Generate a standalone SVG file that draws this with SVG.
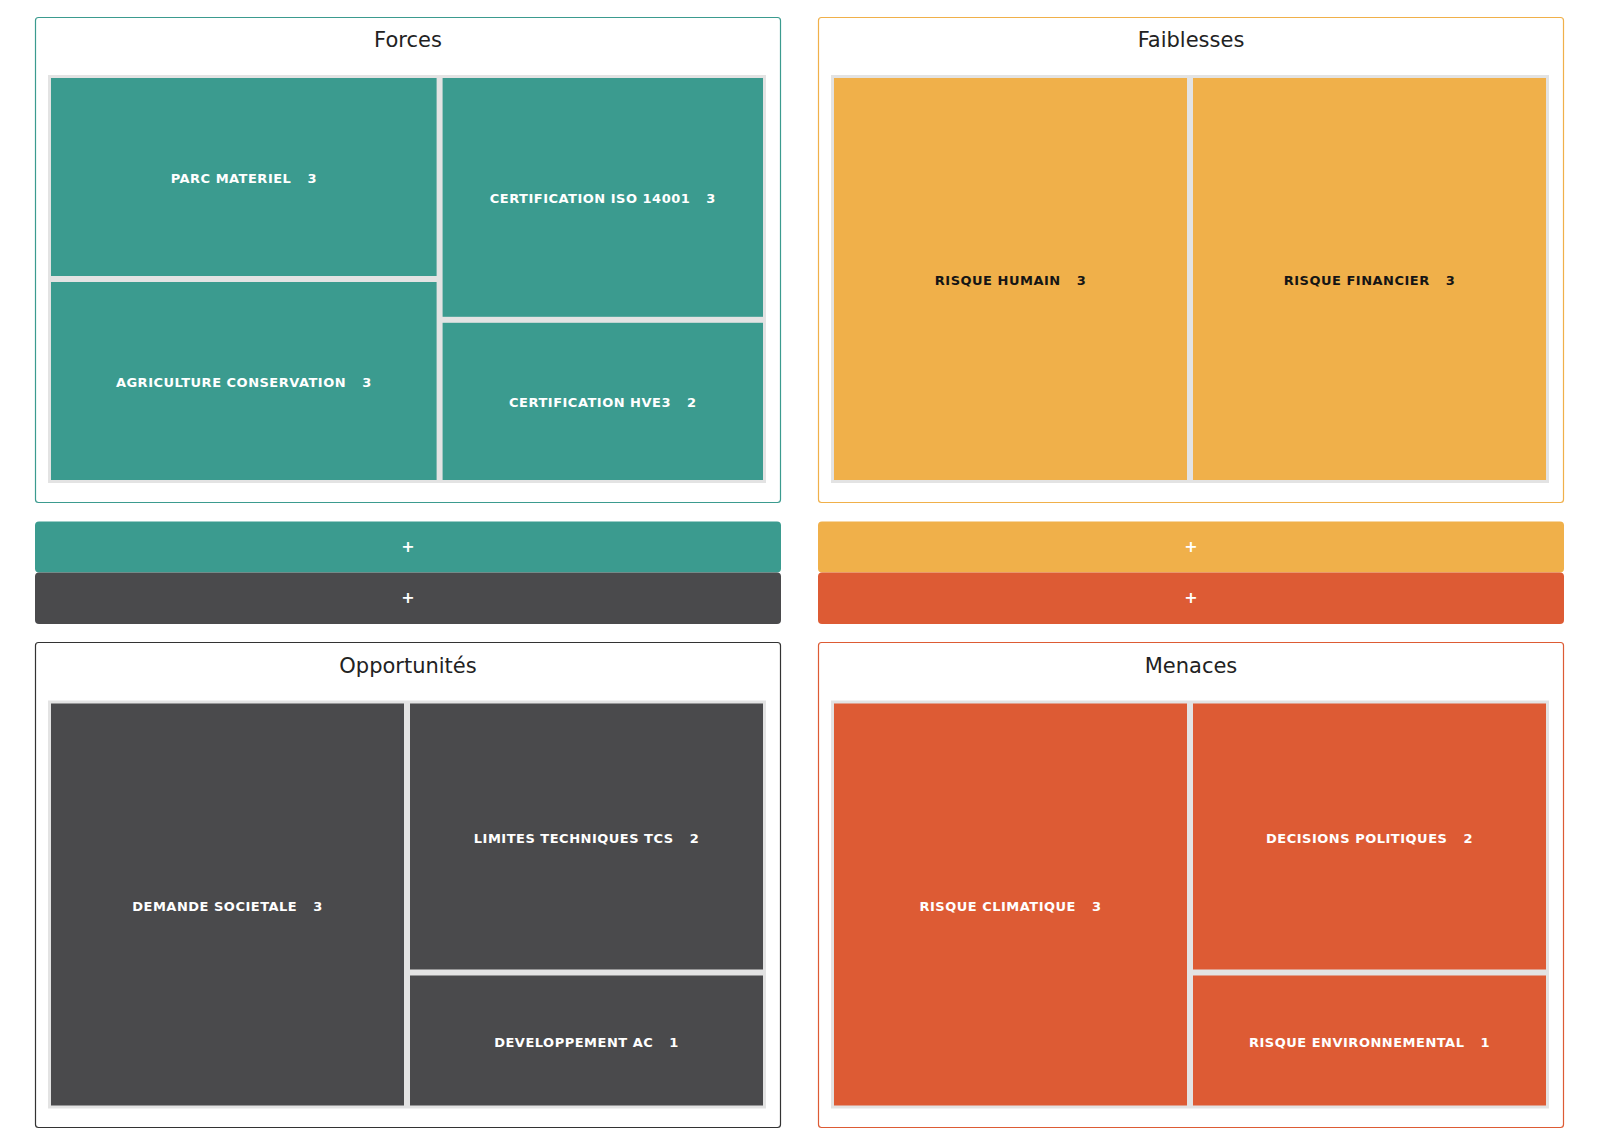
<svg xmlns="http://www.w3.org/2000/svg" width="1600" height="1146" viewBox="0 0 1600 1146">
<style>
.bg{fill:#ffffff}
.panel{fill:#ffffff;stroke-width:1.2}
.title{font-family:"DejaVu Sans",Verdana,sans-serif;font-size:21px;fill:#222222;text-anchor:middle}
.grid{fill:#e3e3e3}
.lbl{font-family:"DejaVu Sans",Verdana,sans-serif;font-size:13px;font-weight:bold;letter-spacing:0.5px;text-anchor:middle}
.w{fill:#ffffff}
.k{fill:#151515}
.plus{font-family:"DejaVu Sans",Verdana,sans-serif;font-size:16px;font-weight:bold;fill:#ffffff;text-anchor:middle}
.teal{fill:#3b9b8f}
.orange{fill:#f0b04a}
.dark{fill:#4a4a4c}
.red{fill:#dd5b34}
</style>
<rect class="bg" x="0" y="0" width="1600" height="1146"/>

<g id="forces">
<rect class="panel" x="35.5" y="17.5" width="745" height="485" rx="3" stroke="#3b9b8f"/>
<text class="title" x="408" y="47">Forces</text>
<rect class="grid" x="48" y="75" width="718" height="408"/>
<g id="parc-materiel"><rect class="teal" x="51" y="78" width="385.6" height="198"/><text class="lbl w" x="243.8" y="183">PARC MATERIEL<tspan dx="16">3</tspan></text></g>
<g id="agriculture-conservation"><rect class="teal" x="51" y="282" width="385.6" height="198"/><text class="lbl w" x="243.8" y="387">AGRICULTURE CONSERVATION<tspan dx="16">3</tspan></text></g>
<g id="certification-iso"><rect class="teal" x="442.6" y="78" width="320.4" height="238.8"/><text class="lbl w" x="602.8" y="203.4">CERTIFICATION ISO 14001<tspan dx="16">3</tspan></text></g>
<g id="certification-hve3"><rect class="teal" x="442.6" y="322.8" width="320.4" height="157.2"/><text class="lbl w" x="602.8" y="407.4">CERTIFICATION HVE3<tspan dx="16">2</tspan></text></g>
</g>

<g id="faiblesses">
<rect class="panel" x="818.5" y="17.5" width="745" height="485" rx="3" stroke="#f0b04a"/>
<text class="title" x="1191" y="47">Faiblesses</text>
<rect class="grid" x="831" y="75" width="718" height="408"/>
<g id="risque-humain"><rect class="orange" x="834" y="78" width="353" height="402"/><text class="lbl k" x="1010.5" y="285">RISQUE HUMAIN<tspan dx="16">3</tspan></text></g>
<g id="risque-financier"><rect class="orange" x="1193" y="78" width="353" height="402"/><text class="lbl k" x="1369.5" y="285">RISQUE FINANCIER<tspan dx="16">3</tspan></text></g>
</g>

<g id="buttons">
<g id="btn-forces"><rect class="teal" x="35" y="521.5" width="746" height="51" rx="4"/><text class="plus" x="408" y="551.5">+</text></g>
<g id="btn-opportunites"><rect class="dark" x="35" y="572.5" width="746" height="51.5" rx="4"/><text class="plus" x="408" y="602.5">+</text></g>
<g id="btn-faiblesses"><rect class="orange" x="818" y="521.5" width="746" height="51" rx="4"/><text class="plus" x="1191" y="551.5">+</text></g>
<g id="btn-menaces"><rect class="red" x="818" y="572.5" width="746" height="51.5" rx="4"/><text class="plus" x="1191" y="602.5">+</text></g>
</g>

<g id="opportunites">
<rect class="panel" x="35.5" y="642.5" width="745" height="485" rx="3" stroke="#333333"/>
<text class="title" x="408" y="672.5">Opportunités</text>
<rect class="grid" x="48" y="700.5" width="718" height="408"/>
<g id="demande-societale"><rect class="dark" x="51" y="703.5" width="353" height="402"/><text class="lbl w" x="227.5" y="910.5">DEMANDE SOCIETALE<tspan dx="16">3</tspan></text></g>
<g id="limites-techniques"><rect class="dark" x="410" y="703.5" width="353" height="266"/><text class="lbl w" x="586.5" y="842.5">LIMITES TECHNIQUES TCS<tspan dx="16">2</tspan></text></g>
<g id="developpement-ac"><rect class="dark" x="410" y="975.5" width="353" height="130"/><text class="lbl w" x="586.5" y="1046.5">DEVELOPPEMENT AC<tspan dx="16">1</tspan></text></g>
</g>

<g id="menaces">
<rect class="panel" x="818.5" y="642.5" width="745" height="485" rx="3" stroke="#dd5b34"/>
<text class="title" x="1191" y="672.5">Menaces</text>
<rect class="grid" x="831" y="700.5" width="718" height="408"/>
<g id="risque-climatique"><rect class="red" x="834" y="703.5" width="353" height="402"/><text class="lbl w" x="1010.5" y="910.5">RISQUE CLIMATIQUE<tspan dx="16">3</tspan></text></g>
<g id="decisions-politiques"><rect class="red" x="1193" y="703.5" width="353" height="266"/><text class="lbl w" x="1369.5" y="842.5">DECISIONS POLITIQUES<tspan dx="16">2</tspan></text></g>
<g id="risque-environnemental"><rect class="red" x="1193" y="975.5" width="353" height="130"/><text class="lbl w" x="1369.5" y="1046.5">RISQUE ENVIRONNEMENTAL<tspan dx="16">1</tspan></text></g>
</g>

<g id="connectors"></g>
</svg>
